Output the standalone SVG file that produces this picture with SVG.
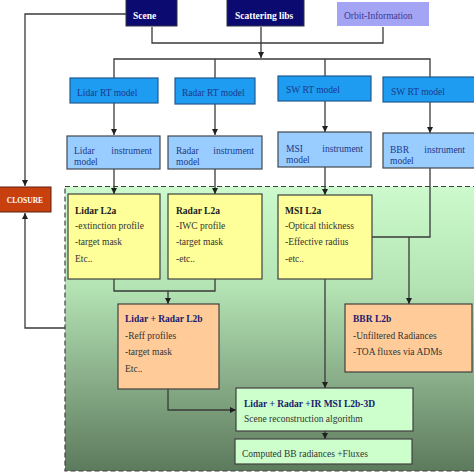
<svg xmlns="http://www.w3.org/2000/svg" width="474" height="474" viewBox="0 0 474 474">
<defs>
<linearGradient id="g" x1="0" y1="0" x2="0" y2="1">
<stop offset="0" stop-color="#ccfacc"/>
<stop offset="0.35" stop-color="#b4e4b4"/>
<stop offset="0.7" stop-color="#86aa86"/>
<stop offset="1" stop-color="#5c7a5c"/>
</linearGradient>
<marker id="a" viewBox="0 0 8 8" refX="8" refY="4" markerWidth="6" markerHeight="6" orient="auto" markerUnits="userSpaceOnUse">
<path d="M0,0 L8,4 L0,8 z" fill="#202020"/>
</marker>
<style>
text{font-family:"Liberation Serif","Times New Roman",serif;font-size:9.5px;fill:#333}
.b{font-weight:bold}
.w{fill:#fff}
.n{fill:#1a1a6e}
.bl{fill:#1a3a8a}
.top{fill:#0a0a70;stroke:#303040;stroke-width:1}
.rt{fill:#1e9cf2;stroke:#205a90;stroke-width:1.2}
.ins{fill:#99ccff;stroke:#404850;stroke-width:1.2}
.y{fill:#ffff99;stroke:#404040;stroke-width:1.2}
.o{fill:#ffcc99;stroke:#404040;stroke-width:1.2}
.lg{fill:#ccffcc;stroke:#404040;stroke-width:1.2}
.c{fill:none;stroke:#3a3a3a;stroke-width:1.3}
</style>
</defs>
<rect x="0" y="0" width="474" height="474" fill="#fff"/>
<rect id="region" x="65" y="186.5" width="415" height="284.5" fill="url(#g)" stroke="#404040" stroke-width="1.2" stroke-dasharray="5,3"/>

<g id="connectors">
<path class="c" d="M126,14 H25 V186" marker-end="url(#a)"/>
<path class="c" d="M65,328 H25 V213" marker-end="url(#a)"/>
<path class="c" d="M152,27 V43 H383 V27"/>
<path class="c" d="M261,27 V58" marker-end="url(#a)"/>
<path class="c" d="M114,78 V59 H430 V77 M215,59 V78 M325,59 V76"/>
<path class="c" d="M114,103 V135" marker-end="url(#a)"/>
<path class="c" d="M215,104 V135" marker-end="url(#a)"/>
<path class="c" d="M325,101 V132" marker-end="url(#a)"/>
<path class="c" d="M430,102 V133" marker-end="url(#a)"/>
<path class="c" d="M114,169 V194" marker-end="url(#a)"/>
<path class="c" d="M215,169 V194" marker-end="url(#a)"/>
<path class="c" d="M325,167 V195" marker-end="url(#a)"/>
<path class="c" d="M430,168 V237 H372"/>
<path class="c" d="M409,237 V304" marker-end="url(#a)"/>
<path class="c" d="M114,279 V291 H215 V279"/>
<path class="c" d="M168,291 V304" marker-end="url(#a)"/>
<path class="c" d="M325,279 V388" marker-end="url(#a)"/>
<path class="c" d="M168,389 V410 H236" marker-end="url(#a)"/>
<path class="c" d="M325,431 V439" marker-end="url(#a)"/>
</g>

<g id="scene"><rect class="top" x="126" y="-2" width="51" height="28"/><text class="b w" x="133" y="19">Scene</text></g>
<g id="scattering"><rect class="top" x="227" y="-2" width="77" height="28"/><text class="b w" x="235" y="19">Scattering libs</text></g>
<g id="orbit"><rect x="337" y="2" width="92" height="24" fill="#a4a4f4"/><text x="344" y="19" style="fill:#3a3a90">Orbit-Information</text></g>

<g id="closure"><rect x="-1" y="187" width="52" height="25" fill="#c8400e" stroke="#5a2010" stroke-width="1"/><text class="b w" x="25" y="203" text-anchor="middle" style="font-size:7.5px">CLOSURE</text></g>

<g id="lidar-rt"><rect class="rt" x="70" y="78" width="88" height="25"/><text class="bl" x="77" y="96">Lidar RT model</text></g>
<g id="radar-rt"><rect class="rt" x="175" y="78" width="80" height="26"/><text class="bl" x="182" y="96">Radar RT model</text></g>
<g id="sw-rt-1"><rect class="rt" x="278" y="76" width="93" height="25"/><text class="bl" x="286" y="93">SW RT model</text></g>
<g id="sw-rt-2"><rect class="rt" x="383" y="77" width="95" height="25"/><text class="bl" x="391" y="95">SW RT model</text></g>

<g id="lidar-inst"><rect class="ins" x="67" y="136" width="93" height="33"/><text class="bl" x="74" y="154">Lidar</text><text class="bl" x="152" y="154" text-anchor="end">instrument</text><text class="bl" x="74" y="165">model</text></g>
<g id="radar-inst"><rect class="ins" x="168" y="136" width="94" height="33"/><text class="bl" x="176" y="154">Radar</text><text class="bl" x="254" y="154" text-anchor="end">instrument</text><text class="bl" x="176" y="165">model</text></g>
<g id="msi-inst"><rect class="ins" x="278" y="132" width="93" height="35"/><text class="bl" x="286" y="152">MSI</text><text class="bl" x="363" y="152" text-anchor="end">instrument</text><text class="bl" x="286" y="163">model</text></g>
<g id="bbr-inst"><rect class="ins" x="383" y="133" width="95" height="35"/><text class="bl" x="390" y="153">BBR</text><text class="bl" x="465" y="153" text-anchor="end">instrument</text><text class="bl" x="390" y="164">model</text></g>

<g id="lidar-l2a"><rect class="y" x="68" y="194" width="92" height="85"/><text class="b" x="75" y="214" style="fill:#1a1a1a">Lidar L2a</text><text x="75" y="229">-extinction profile</text><text x="75" y="245">-target mask</text><text x="75" y="262">Etc..</text></g>
<g id="radar-l2a"><rect class="y" x="168" y="194" width="94" height="85"/><text class="b" x="176" y="214" style="fill:#1a1a1a">Radar L2a</text><text x="176" y="229">-IWC profile</text><text x="176" y="245">-target mask</text><text x="176" y="262">-etc..</text></g>
<g id="msi-l2a"><rect class="y" x="278" y="195" width="94" height="84"/><text class="b" x="285" y="214" style="fill:#1a1a1a">MSI L2a</text><text x="285" y="229">-Optical thickness</text><text x="285" y="245">-Effective radius</text><text x="285" y="262">-etc..</text></g>

<g id="lidar-radar-l2b"><rect class="o" x="118" y="304" width="101" height="85"/><text class="b n" x="125" y="322">Lidar + Radar L2b</text><text x="125" y="339">-Reff profiles</text><text x="125" y="355">-target mask</text><text x="125" y="372">Etc..</text></g>
<g id="bbr-l2b"><rect class="o" x="345" y="304" width="127" height="68"/><text class="b n" x="353" y="322">BBR L2b</text><text x="353" y="339">-Unfiltered Radiances</text><text x="353" y="355">-TOA fluxes via ADMs</text></g>

<g id="l2b-3d"><rect class="lg" x="236" y="388" width="177" height="43"/><text class="b n" x="244" y="407">Lidar + Radar +IR MSI L2b-3D</text><text x="244" y="422">Scene reconstruction algorithm</text></g>
<g id="computed"><rect class="lg" x="235" y="439" width="177" height="25"/><text x="242" y="457">Computed BB radiances +Fluxes</text></g>
</svg>
